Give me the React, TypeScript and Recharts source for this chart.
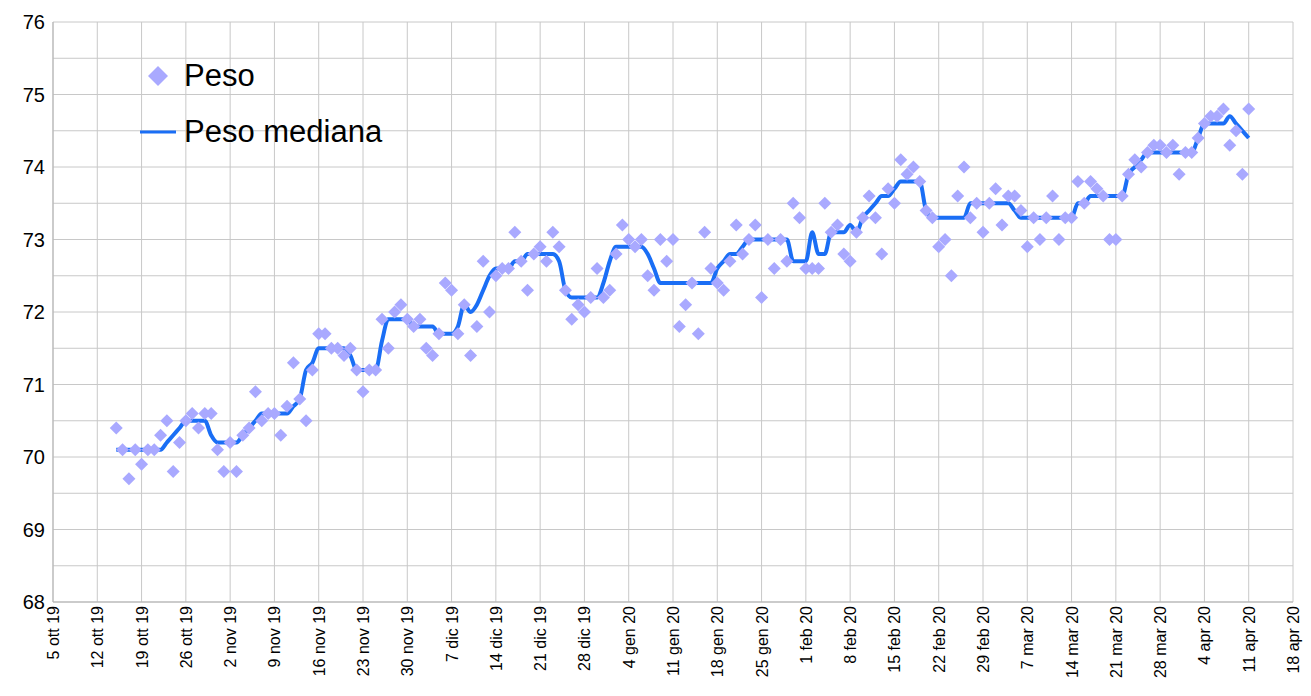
import React from "react";
import { LineChart, Line, XAxis, YAxis, CartesianGrid } from "recharts";

// day offsets from 5 ott 19
const tickDays = [0, 7, 14, 21, 28, 35, 42, 49, 56, 63, 70, 77, 84, 91, 98, 105, 112, 119, 126, 133, 140, 147, 154, 161, 168, 175, 182, 189, 196];
const tickLabels = ["5 ott 19", "12 ott 19", "19 ott 19", "26 ott 19", "2 nov 19", "9 nov 19", "16 nov 19", "23 nov 19", "30 nov 19", "7 dic 19", "14 dic 19", "21 dic 19", "28 dic 19", "4 gen 20", "11 gen 20", "18 gen 20", "25 gen 20", "1 feb 20", "8 feb 20", "15 feb 20", "22 feb 20", "29 feb 20", "7 mar 20", "14 mar 20", "21 mar 20", "28 mar 20", "4 apr 20", "11 apr 20", "18 apr 20"];
const yTicks = [68, 69, 70, 71, 72, 73, 74, 75, 76];
const yGrid = [68, 68.5, 69, 69.5, 70, 70.5, 71, 71.5, 72, 72.5, 73, 73.5, 74, 74.5, 75, 75.5, 76];

const firstDay = 10;
const peso = [
  70.4, 70.1, 69.7, 70.1, 69.9, 70.1, 70.1, 70.3, 70.5, 69.8,
  70.2, 70.5, 70.6, 70.4, 70.6, 70.6, 70.1, 69.8, 70.2, 69.8,
  70.3, 70.4, 70.9, 70.5, 70.6, 70.6, 70.3, 70.7, 71.3, 70.8,
  70.5, 71.2, 71.7, 71.7, 71.5, 71.5, 71.4, 71.5, 71.2, 70.9,
  71.2, 71.2, 71.9, 71.5, 72.0, 72.1, 71.9, 71.8, 71.9, 71.5,
  71.4, 71.7, 72.4, 72.3, 71.7, 72.1, 71.4, 71.8, 72.7, 72.0,
  72.5, 72.6, 72.6, 73.1, 72.7, 72.3, 72.8, 72.9, 72.7, 73.1,
  72.9, 72.3, 71.9, 72.1, 72.0, 72.2, 72.6, 72.2, 72.3, 72.8,
  73.2, 73.0, 72.9, 73.0, 72.5, 72.3, 73.0, 72.7, 73.0, 71.8,
  72.1, 72.4, 71.7, 73.1, 72.6, 72.4, 72.3, 72.7, 73.2, 72.8,
  73.0, 73.2, 72.2, 73.0, 72.6, 73.0, 72.7, 73.5, 73.3, 72.6,
  72.6, 72.6, 73.5, 73.1, 73.2, 72.8, 72.7, 73.1, 73.3, 73.6,
  73.3, 72.8, 73.7, 73.5, 74.1, 73.9, 74.0, 73.8, 73.4, 73.3,
  72.9, 73.0, 72.5, 73.6, 74.0, 73.3, 73.5, 73.1, 73.5, 73.7,
  73.2, 73.6, 73.6, 73.4, 72.9, 73.3, 73.0, 73.3, 73.6, 73.0,
  73.3, 73.3, 73.8, 73.5, 73.8, 73.7, 73.6, 73.0, 73.0, 73.6,
  73.9, 74.1, 74.0, 74.2, 74.3, 74.3, 74.2, 74.3, 73.9, 74.2,
  74.2, 74.4, 74.6, 74.7, 74.7, 74.8, 74.3, 74.5, 73.9, 74.8,
];
const mediana = [
  70.1, 70.1, 70.1, 70.1, 70.1, 70.1, 70.1, 70.1, 70.2, 70.3,
  70.4, 70.5, 70.5, 70.5, 70.5, 70.3, 70.2, 70.2, 70.2, 70.2,
  70.3, 70.4, 70.5, 70.6, 70.6, 70.6, 70.6, 70.6, 70.7, 70.8,
  71.2, 71.3, 71.5, 71.5, 71.5, 71.5, 71.5, 71.4, 71.2, 71.2,
  71.2, 71.2, 71.6, 71.9, 71.9, 71.9, 71.9, 71.8, 71.8, 71.8,
  71.8, 71.7, 71.7, 71.7, 71.8, 72.1, 72.0, 72.1, 72.3, 72.5,
  72.6, 72.6, 72.6, 72.7, 72.7, 72.8, 72.8, 72.8, 72.8, 72.8,
  72.7, 72.3, 72.2, 72.2, 72.2, 72.2, 72.2, 72.4, 72.7, 72.9,
  72.9, 72.9, 72.9, 72.9, 72.8, 72.6, 72.4, 72.4, 72.4, 72.4,
  72.4, 72.4, 72.4, 72.4, 72.4, 72.6, 72.7, 72.8, 72.8, 72.9,
  73.0, 73.0, 73.0, 73.0, 73.0, 73.0, 73.0, 72.7, 72.7, 72.7,
  73.1, 72.8, 72.8, 73.1, 73.1, 73.1, 73.2, 73.1, 73.3, 73.4,
  73.5, 73.6, 73.6, 73.7, 73.8, 73.8, 73.8, 73.8, 73.4, 73.3,
  73.3, 73.3, 73.3, 73.3, 73.3, 73.5, 73.5, 73.5, 73.5, 73.5,
  73.5, 73.5, 73.4, 73.3, 73.3, 73.3, 73.3, 73.3, 73.3, 73.3,
  73.3, 73.3, 73.5, 73.5, 73.6, 73.6, 73.6, 73.6, 73.6, 73.6,
  73.9, 74.0, 74.1, 74.2, 74.2, 74.2, 74.2, 74.2, 74.2, 74.2,
  74.2, 74.4, 74.6, 74.6, 74.6, 74.6, 74.7, 74.6, 74.5, 74.4,
];

const data = peso.map((v, i) => ({ day: firstDay + i, peso: v, mediana: mediana[i] }));

const PT = "#a9a9ff";
const LN = "#1a6ef5";
const FONT = "'Liberation Sans', Arial, sans-serif";

const Diamond = (props: any) => {
  const { cx, cy } = props;
  if (cx == null || cy == null) return null;
  const r = 6.5;
  return <path d={`M${cx},${cy - r}L${cx + r},${cy}L${cx},${cy + r}L${cx - r},${cy}Z`} fill={PT} />;
};

const XTick = (props: any) => {
  const { x, y, payload } = props;
  const idx = tickDays.indexOf(payload.value);
  const yy = y - 4;
  return (
    <text x={x} y={yy} transform={`rotate(-90 ${x} ${yy})`} textAnchor="end" dy={6} fontSize={16} fontFamily={FONT} fill="#000">
      {tickLabels[idx]}
    </text>
  );
};

export default function App() {
  return (
    <div style={{ position: "relative", width: 1303, height: 688, background: "#fff" }}>
      <LineChart width={1303} height={688} data={data} margin={{ top: 14, right: 18, bottom: 0, left: 5 }}>
        <CartesianGrid stroke="#c8c8c8" horizontalValues={yGrid} verticalValues={tickDays} />
        <XAxis dataKey="day" type="number" domain={[0, 196]} ticks={tickDays} interval={0} tick={<XTick />} height={94} axisLine={{ stroke: "#b3b3b3" }} tickLine={false} />
        <YAxis type="number" domain={[68, 76]} ticks={yTicks} width={40} tick={{ fontSize: 20, fill: "#000", fontFamily: FONT }} axisLine={{ stroke: "#b3b3b3" }} tickLine={false} />
        <Line dataKey="peso" stroke="none" dot={<Diamond />} activeDot={false} isAnimationActive={false} />
        <Line dataKey="mediana" type="monotone" stroke={LN} strokeWidth={4} dot={false} isAnimationActive={false} />
      </LineChart>
      <div style={{ position: "absolute", left: 130, top: 40, fontFamily: FONT, fontSize: 31, color: "#000", lineHeight: "56px" }}>
        <div style={{ display: "flex", alignItems: "center" }}>
          <svg width={40} height={22}><path d="M20,1L30,11L20,21L10,11Z" fill={PT} /></svg>
          <span style={{ marginLeft: 6 }}>Peso</span>
        </div>
        <div style={{ display: "flex", alignItems: "center" }}>
          <svg width={40} height={20}><line x1={2} y1={10} x2={38} y2={10} stroke={LN} strokeWidth={3} /></svg>
          <span style={{ marginLeft: 6 }}>Peso mediana</span>
        </div>
      </div>
    </div>
  );
}
